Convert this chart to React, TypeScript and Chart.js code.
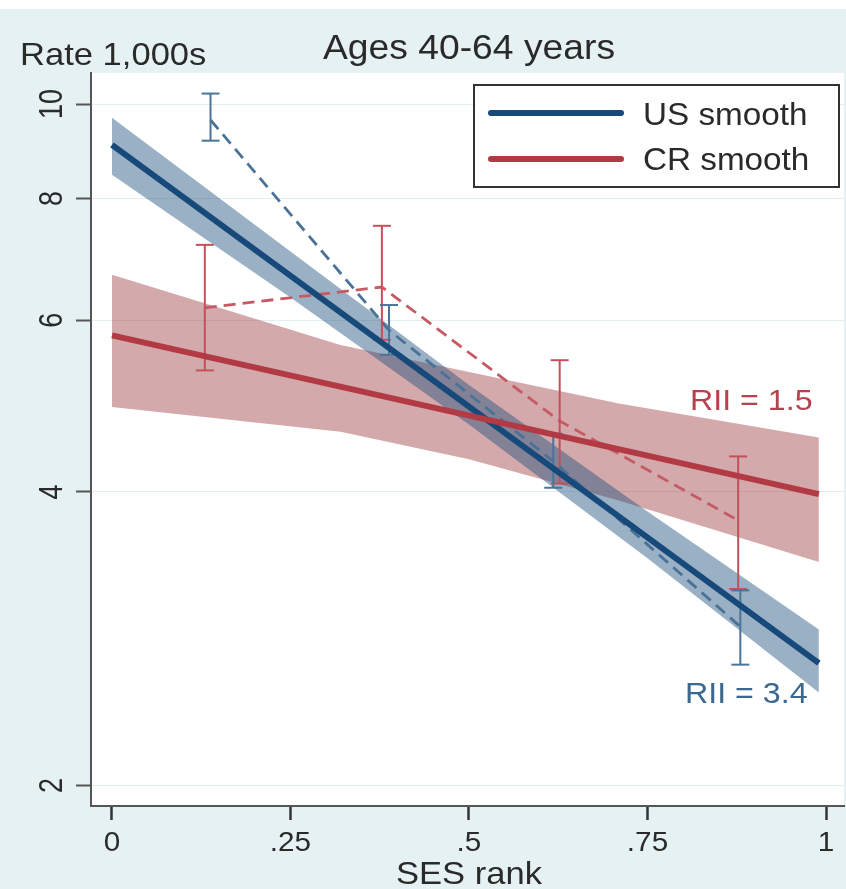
import React, { useEffect, useRef } from 'react';
import { Chart, registerables } from 'chart.js';

Chart.register(...registerables);

// ---------------- data ----------------
const xTicks = [0, 0.25, 0.5, 0.75, 1];
const xTickLabels = ['0', '.25', '.5', '.75', '1'];
const yTicks = [2, 4, 6, 8, 10];
const yTickLabels = ['2', '4', '6', '8', '10'];

const titleText = 'Ages 40-64 years';
const yAxisTitle = 'Rate 1,000s';
const xAxisTitle = 'SES rank';
const legendLabels = ['US smooth', 'CR smooth'];
const usRiiText = 'RII = 3.4';
const crRiiText = 'RII = 1.5';

// fitted smooth lines
const usSmoothX = [0, 0.99];
const usSmoothY = [9.08, 2.67];
const crSmoothX = [0, 0.99];
const crSmoothY = [5.79, 3.98];

// confidence bands
const usBandX = [0, 0.25, 0.5, 0.75, 0.99];
const usBandUpper = [9.68, 7.06, 5.15, 3.82, 2.89];
const usBandLower = [8.46, 6.33, 4.69, 3.42, 2.49];

const crBandX = [0, 0.32, 0.5, 0.71, 0.99];
const crBandUpper = [6.68, 5.66, 5.31, 4.93, 4.55];
const crBandLower = [4.89, 4.61, 4.32, 3.92, 3.39];

// observed quintile rates with error bars
const usObsX = [0.138, 0.388, 0.618, 0.88];
const usObsRate = [9.63, 5.86, 4.3, 2.91];
const usObsLow = [9.17, 5.53, 4.04, 2.66];
const usObsHigh = [10.25, 6.22, 4.59, 3.17];

const crObsX = [0.13, 0.378, 0.627, 0.877];
const crObsRate = [6.18, 6.49, 4.73, 3.74];
const crObsLow = [5.33, 5.73, 4.08, 3.18];
const crObsHigh = [7.17, 7.5, 5.46, 4.35];

// ---------------- styles ----------------
const W = 846;
const H = 889;
const BG = '#e5f1f2';
const TEXT = '#2a2a2a';
const US_COLOR = '#17497a';
const CR_COLOR = '#b23a44';
const US_BAND = 'rgba(30,80,125,0.45)';
const CR_BAND = 'rgba(150,50,56,0.42)';
const US_DASH = '#4a7296';
const CR_DASH = '#c65a64';
const US_ERR = '#4a7599';
const CR_ERR = '#c4505c';
const FONT = '"Liberation Sans", Arial, Helvetica, sans-serif';
const SX = 1.08;

const pts = (xs: number[], ys: number[]) => xs.map((x, i) => ({ x, y: ys[i] }));
const errData = (xs: number[], lo: number[], hi: number[]) =>
  xs.flatMap((x, i) => [{ x, y: lo[i] }, { x, y: hi[i] }, { x, y: null as any }]);
const capData = (xs: number[], lo: number[], hi: number[]) =>
  xs.flatMap((x, i) => [{ x, y: lo[i] }, { x, y: hi[i] }]);

function txt(
  ctx: CanvasRenderingContext2D,
  s: string,
  x: number,
  y: number,
  size: number,
  color: string,
  align: CanvasTextAlign,
  sx = SX
) {
  ctx.save();
  ctx.translate(x, y);
  ctx.scale(sx, 1);
  ctx.font = `${size}px ${FONT}`;
  ctx.fillStyle = color;
  ctx.textAlign = align;
  ctx.textBaseline = 'alphabetic';
  ctx.fillText(s, 0, 0);
  ctx.restore();
}

const bgPlugin = {
  id: 'bgPlugin',
  beforeDraw(chart: any) {
    const { ctx, chartArea } = chart;
    ctx.save();
    ctx.fillStyle = BG;
    ctx.fillRect(0, 0, W, H);
    ctx.fillStyle = '#ffffff';
    ctx.fillRect(0, 0, W, 9);
    ctx.fillRect(chartArea.left, chartArea.top, chartArea.right - chartArea.left, chartArea.bottom - chartArea.top);
    ctx.restore();
  },
};

const textPlugin = {
  id: 'textPlugin',
  afterDraw(chart: any) {
    const { ctx } = chart;
    const xs = chart.scales.x;
    const ys = chart.scales.y;
    // titles
    txt(ctx, yAxisTitle, 20, 65, 32, TEXT, 'left');
    txt(ctx, titleText, 469, 59, 34.5, TEXT, 'center');
    txt(ctx, xAxisTitle, 469, 884, 32, TEXT, 'center');
    // x tick labels
    xTicks.forEach((v, i) => {
      txt(ctx, xTickLabels[i], xs.getPixelForValue(v), 851, 27.5, TEXT, 'center');
    });
    // y tick labels, rotated
    yTicks.forEach((v, i) => {
      const py = ys.getPixelForValue(v);
      ctx.save();
      ctx.translate(62, py);
      ctx.scale(1.25, 1);
      ctx.rotate(-Math.PI / 2);
      ctx.font = `27px ${FONT}`;
      ctx.fillStyle = TEXT;
      ctx.textAlign = 'center';
      ctx.textBaseline = 'alphabetic';
      ctx.fillText(yTickLabels[i], 0, 0);
      ctx.restore();
    });
    // RII annotations
    txt(ctx, crRiiText, 690, 410, 29.8, '#b5434d', 'left');
    txt(ctx, usRiiText, 685, 703, 29.8, '#3a6890', 'left');
    // legend
    ctx.save();
    ctx.fillStyle = '#ffffff';
    ctx.fillRect(474, 85, 365, 102);
    ctx.strokeStyle = '#333333';
    ctx.lineWidth = 2;
    ctx.strokeRect(474, 85, 365, 102);
    ctx.lineCap = 'round';
    ctx.lineWidth = 6;
    ctx.strokeStyle = US_COLOR;
    ctx.beginPath();
    ctx.moveTo(491, 113);
    ctx.lineTo(621, 113);
    ctx.stroke();
    ctx.strokeStyle = CR_COLOR;
    ctx.beginPath();
    ctx.moveTo(491, 159);
    ctx.lineTo(621, 159);
    ctx.stroke();
    ctx.restore();
    txt(ctx, legendLabels[0], 643, 125, 30.8, TEXT, 'left');
    txt(ctx, legendLabels[1], 643, 170, 30.8, TEXT, 'left');
  },
};

const T = 'rgba(0,0,0,0)';

function buildConfig(): any {
  return {
    type: 'line',
    data: {
      datasets: [
        { data: pts(crBandX, crBandLower), borderColor: T, borderWidth: 0, pointRadius: 0, fill: false, order: 100 },
        { data: pts(crBandX, crBandUpper), borderColor: T, borderWidth: 0, pointRadius: 0, fill: '-1', backgroundColor: CR_BAND, order: 99 },
        { data: pts(usBandX, usBandLower), borderColor: T, borderWidth: 0, pointRadius: 0, fill: false, order: 98 },
        { data: pts(usBandX, usBandUpper), borderColor: T, borderWidth: 0, pointRadius: 0, fill: '-1', backgroundColor: US_BAND, order: 97 },
        { data: pts(crObsX, crObsRate), borderColor: CR_DASH, borderWidth: 2.8, borderDash: [12, 7], pointRadius: 0, fill: false, order: 90 },
        { data: errData(crObsX, crObsLow, crObsHigh), borderColor: CR_ERR, borderWidth: 2, pointRadius: 0, fill: false, spanGaps: false, order: 89 },
        { data: capData(crObsX, crObsLow, crObsHigh), showLine: false, pointStyle: 'line', pointRadius: 9, pointBorderWidth: 2, pointBorderColor: CR_ERR, borderColor: CR_ERR, fill: false, order: 88 },
        { data: pts(usObsX, usObsRate), borderColor: US_DASH, borderWidth: 2.8, borderDash: [12, 7], pointRadius: 0, fill: false, order: 87 },
        { data: errData(usObsX, usObsLow, usObsHigh), borderColor: US_ERR, borderWidth: 2, pointRadius: 0, fill: false, spanGaps: false, order: 86 },
        { data: capData(usObsX, usObsLow, usObsHigh), showLine: false, pointStyle: 'line', pointRadius: 9, pointBorderWidth: 2, pointBorderColor: US_ERR, borderColor: US_ERR, fill: false, order: 85 },
        { data: pts(usSmoothX, usSmoothY), borderColor: US_COLOR, borderWidth: 6, pointRadius: 0, fill: false, order: 2 },
        { data: pts(crSmoothX, crSmoothY), borderColor: CR_COLOR, borderWidth: 6, pointRadius: 0, fill: false, order: 1 },
      ],
    },
    options: {
      animation: false,
      responsive: false,
      devicePixelRatio: 1,
      events: [],
      layout: { autoPadding: false, padding: { top: 73, right: 2, left: 0, bottom: 0 } },
      elements: { line: { tension: 0 } },
      plugins: { legend: { display: false }, tooltip: { enabled: false }, title: { display: false } },
      scales: {
        x: {
          type: 'linear',
          bounds: 'data',
          min: -0.0294,
          max: 1.0252,
          afterBuildTicks: (s: any) => {
            s.ticks = xTicks.map((v) => ({ value: v }));
          },
          afterFit: (s: any) => {
            s.height = 83;
          },
          ticks: { display: false },
          grid: { drawOnChartArea: false, drawTicks: true, tickLength: 14, tickColor: '#333333', tickWidth: 2.5 },
          border: { display: true, color: '#555555', width: 2 },
        },
        y: {
          type: 'logarithmic',
          bounds: 'data',
          min: 1.905,
          max: 10.76,
          afterBuildTicks: (s: any) => {
            s.ticks = yTicks.map((v) => ({ value: v }));
          },
          afterFit: (s: any) => {
            s.width = 91;
          },
          ticks: { display: false },
          grid: { drawOnChartArea: true, color: '#e3eef0', lineWidth: 1, drawTicks: true, tickLength: 15, tickColor: '#555555', tickWidth: 2 },
          border: { display: true, color: '#555555', width: 2 },
        },
      },
    },
    plugins: [bgPlugin, textPlugin],
  };
}

export default function App() {
  const ref = useRef<HTMLCanvasElement>(null);
  useEffect(() => {
    document.body.style.margin = '0';
    document.body.style.background = BG;
    const canvas = ref.current;
    if (!canvas) return;
    const chart = new Chart(canvas, buildConfig());
    return () => chart.destroy();
  }, []);
  return (
    <div style={{ width: W, height: H }}>
      <canvas ref={ref} width={W} height={H} style={{ display: 'block', width: W, height: H }} />
    </div>
  );
}
